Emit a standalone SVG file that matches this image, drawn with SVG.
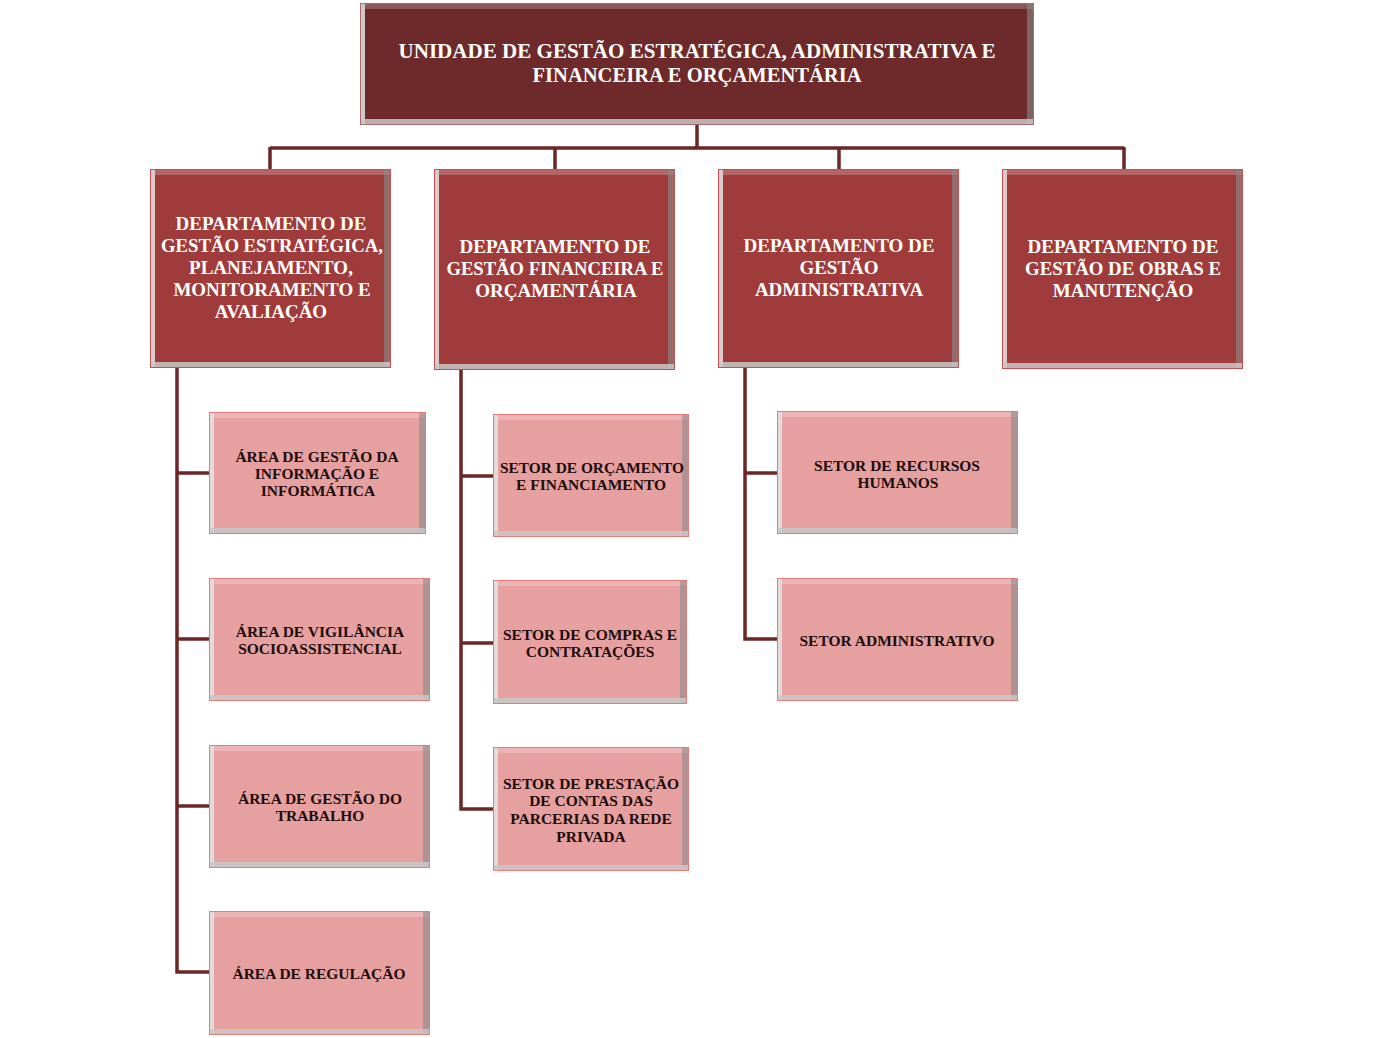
<svg xmlns="http://www.w3.org/2000/svg" width="1394" height="1038" viewBox="0 0 1394 1038">
<style>
.tf{fill:#6e2a2a;stroke:#a86a6a;stroke-width:1}
.df{fill:#9f3c3b;stroke:#c85050;stroke-width:1}
.cf{fill:#e5a09f;stroke:#e87a7a;stroke-width:1}
.bl{fill:#e4e4e4;opacity:.85}
.bt{fill:#ffffff;opacity:.22}
.br{fill:#8a8a8a;opacity:.6}
.bb{fill:#c8c8c8;opacity:.85}
.tt{font-family:"Liberation Serif","Times New Roman",serif;font-weight:bold;fill:#ffffff;text-anchor:middle}
.t1{font-size:21.5px}
.t2{font-size:19px}
.t3{font-size:15.5px;fill:#1c0c0c}
.conn{fill:none;stroke:#6b2626;stroke-width:3.5;stroke-linejoin:miter}
</style>
<rect width="1394" height="1038" fill="#ffffff"/>
<g id="connectors">
<path class="conn" d="M697,125 V148 M270,148 H1124 M270,147 V169 M555,147 V169 M839,147 V169 M1124,147 V169"/>
<path class="conn" d="M177,368 V972 H209 M177,473 H209 M177,639 H209 M177,806 H209"/>
<path class="conn" d="M461,370 V809 H493 M461,476 H493 M461,643 H493"/>
<path class="conn" d="M745,368 V639 H777 M745,473 H777"/>
</g>
<g id="top">
<rect class="tf" x="360.5" y="3.5" width="673" height="121"/>
<rect class="bl" x="361" y="4" width="4" height="120"/><rect class="bt" x="365" y="4" width="668" height="5"/><rect class="br" x="1027" y="4" width="6" height="120"/><rect class="bb" x="361" y="119" width="672" height="5"/>
<text class="tt t1" x="697" y="57.5" textLength="597" lengthAdjust="spacingAndGlyphs">UNIDADE DE GESTÃO ESTRATÉGICA, ADMINISTRATIVA E</text>
<text class="tt t1" x="697" y="81.5" textLength="329" lengthAdjust="spacingAndGlyphs">FINANCEIRA E ORÇAMENTÁRIA</text>
</g>
<g id="dept1">
<rect class="df" x="150.5" y="169.5" width="240" height="198"/>
<rect class="bl" x="151" y="170" width="4" height="197"/><rect class="bt" x="155" y="170" width="235" height="5"/><rect class="br" x="384" y="170" width="6" height="197"/><rect class="bb" x="151" y="362" width="239" height="5"/>
<text class="tt t2" x="271" y="229.5">DEPARTAMENTO DE</text>
<text class="tt t2" x="272" y="251.5" textLength="222" lengthAdjust="spacingAndGlyphs">GESTÃO ESTRATÉGICA,</text>
<text class="tt t2" x="271" y="273.5">PLANEJAMENTO,</text>
<text class="tt t2" x="272" y="295.5">MONITORAMENTO E</text>
<text class="tt t2" x="271" y="317.5">AVALIAÇÃO</text>
</g>
<g id="dept2">
<rect class="df" x="434.5" y="169.5" width="240" height="200"/>
<rect class="bl" x="435" y="170" width="4" height="199"/><rect class="bt" x="439" y="170" width="235" height="5"/><rect class="br" x="668" y="170" width="6" height="199"/><rect class="bb" x="435" y="364" width="239" height="5"/>
<text class="tt t2" x="555" y="252.5">DEPARTAMENTO DE</text>
<text class="tt t2" x="555" y="274.5" textLength="217" lengthAdjust="spacingAndGlyphs">GESTÃO FINANCEIRA E</text>
<text class="tt t2" x="556" y="296.5">ORÇAMENTÁRIA</text>
</g>
<g id="dept3">
<rect class="df" x="718.5" y="169.5" width="240" height="198"/>
<rect class="bl" x="719" y="170" width="4" height="197"/><rect class="bt" x="723" y="170" width="235" height="5"/><rect class="br" x="952" y="170" width="6" height="197"/><rect class="bb" x="719" y="362" width="239" height="5"/>
<text class="tt t2" x="839" y="251.5">DEPARTAMENTO DE</text>
<text class="tt t2" x="839" y="273.5">GESTÃO</text>
<text class="tt t2" x="839" y="295.5">ADMINISTRATIVA</text>
</g>
<g id="dept4">
<rect class="df" x="1002.5" y="169.5" width="240" height="199"/>
<rect class="bl" x="1003" y="170" width="4" height="198"/><rect class="bt" x="1007" y="170" width="235" height="5"/><rect class="br" x="1236" y="170" width="6" height="198"/><rect class="bb" x="1003" y="363" width="239" height="5"/>
<text class="tt t2" x="1123" y="252.5">DEPARTAMENTO DE</text>
<text class="tt t2" x="1123" y="274.5" textLength="196" lengthAdjust="spacingAndGlyphs">GESTÃO DE OBRAS E</text>
<text class="tt t2" x="1123" y="296.5">MANUTENÇÃO</text>
</g>
<g id="area-info">
<rect class="cf" x="209.5" y="412.5" width="216" height="121"/>
<rect class="bl" x="210" y="413" width="4" height="120"/><rect class="bt" x="214" y="413" width="211" height="5"/><rect class="br" x="419" y="413" width="6" height="120"/><rect class="bb" x="210" y="528" width="215" height="5"/>
<text class="tt t3" x="317" y="461.5">ÁREA DE GESTÃO DA</text>
<text class="tt t3" x="317" y="478.5">INFORMAÇÃO E</text>
<text class="tt t3" x="318" y="495.5">INFORMÁTICA</text>
</g>
<g id="area-vigilancia">
<rect class="cf" x="209.5" y="578.5" width="220" height="122"/>
<rect class="bl" x="210" y="579" width="4" height="121"/><rect class="bt" x="214" y="579" width="215" height="5"/><rect class="br" x="423" y="579" width="6" height="121"/><rect class="bb" x="210" y="695" width="219" height="5"/>
<text class="tt t3" x="320" y="636.5">ÁREA DE VIGILÂNCIA</text>
<text class="tt t3" x="320" y="653.5">SOCIOASSISTENCIAL</text>
</g>
<g id="area-trabalho">
<rect class="cf" x="209.5" y="745.5" width="220" height="122"/>
<rect class="bl" x="210" y="746" width="4" height="121"/><rect class="bt" x="214" y="746" width="215" height="5"/><rect class="br" x="423" y="746" width="6" height="121"/><rect class="bb" x="210" y="862" width="219" height="5"/>
<text class="tt t3" x="320" y="803.5">ÁREA DE GESTÃO DO</text>
<text class="tt t3" x="320" y="820.5">TRABALHO</text>
</g>
<g id="area-regulacao">
<rect class="cf" x="209.5" y="911.5" width="220" height="123"/>
<rect class="bl" x="210" y="912" width="4" height="122"/><rect class="bt" x="214" y="912" width="215" height="5"/><rect class="br" x="423" y="912" width="6" height="122"/><rect class="bb" x="210" y="1029" width="219" height="5"/>
<text class="tt t3" x="319" y="978.5">ÁREA DE REGULAÇÃO</text>
</g>
<g id="setor-orcamento">
<rect class="cf" x="493.5" y="414.5" width="195" height="122"/>
<rect class="bl" x="494" y="415" width="4" height="121"/><rect class="bt" x="498" y="415" width="190" height="5"/><rect class="br" x="682" y="415" width="6" height="121"/><rect class="bb" x="494" y="531" width="194" height="5"/>
<text class="tt t3" x="592" y="472.5" textLength="184" lengthAdjust="spacingAndGlyphs">SETOR DE ORÇAMENTO</text>
<text class="tt t3" x="591" y="489.5">E FINANCIAMENTO</text>
</g>
<g id="setor-compras">
<rect class="cf" x="493.5" y="580.5" width="193" height="123"/>
<rect class="bl" x="494" y="581" width="4" height="122"/><rect class="bt" x="498" y="581" width="188" height="5"/><rect class="br" x="680" y="581" width="6" height="122"/><rect class="bb" x="494" y="698" width="192" height="5"/>
<text class="tt t3" x="590" y="639.5">SETOR DE COMPRAS E</text>
<text class="tt t3" x="590" y="656.5">CONTRATAÇÕES</text>
</g>
<g id="setor-prestacao">
<rect class="cf" x="493.5" y="747.5" width="195" height="123"/>
<rect class="bl" x="494" y="748" width="4" height="122"/><rect class="bt" x="498" y="748" width="190" height="5"/><rect class="br" x="682" y="748" width="6" height="122"/><rect class="bb" x="494" y="865" width="194" height="5"/>
<text class="tt t3" x="591" y="788.5">SETOR DE PRESTAÇÃO</text>
<text class="tt t3" x="591" y="805.5">DE CONTAS DAS</text>
<text class="tt t3" x="591" y="823.5">PARCERIAS DA REDE</text>
<text class="tt t3" x="591" y="841.5">PRIVADA</text>
</g>
<g id="setor-rh">
<rect class="cf" x="777.5" y="411.5" width="240" height="122"/>
<rect class="bl" x="778" y="412" width="4" height="121"/><rect class="bt" x="782" y="412" width="235" height="5"/><rect class="br" x="1011" y="412" width="6" height="121"/><rect class="bb" x="778" y="528" width="239" height="5"/>
<text class="tt t3" x="897" y="470.5">SETOR DE RECURSOS</text>
<text class="tt t3" x="898" y="487.5">HUMANOS</text>
</g>
<g id="setor-adm">
<rect class="cf" x="777.5" y="578.5" width="240" height="122"/>
<rect class="bl" x="778" y="579" width="4" height="121"/><rect class="bt" x="782" y="579" width="235" height="5"/><rect class="br" x="1011" y="579" width="6" height="121"/><rect class="bb" x="778" y="695" width="239" height="5"/>
<text class="tt t3" x="897" y="645.5">SETOR ADMINISTRATIVO</text>
</g>
</svg>
